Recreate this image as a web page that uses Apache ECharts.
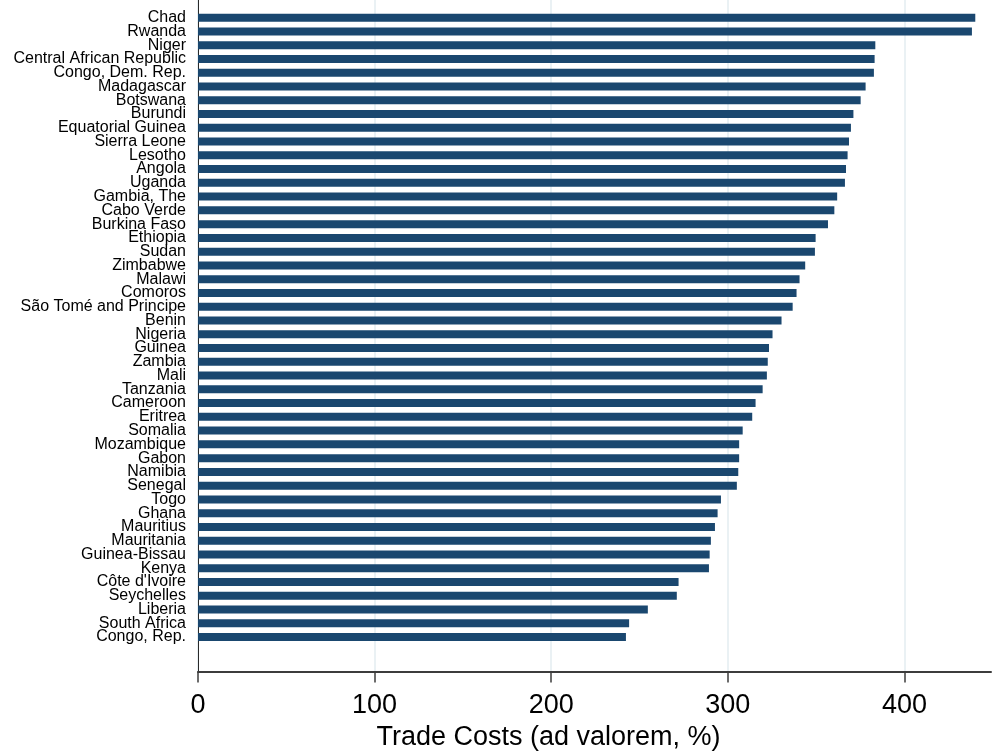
<!DOCTYPE html>
<html>
<head>
<meta charset="utf-8">
<title>Trade Costs</title>
<script src="https://cdn.jsdelivr.net/npm/echarts@6/dist/echarts.min.js"></script>
<style>
  html, body { margin: 0; padding: 0; background: #ffffff; }
  #chart { width: 992px; height: 753px; }
</style>
</head>
<body>
<div id="chart"></div>
<script>
// Countries, ordered from highest to lowest trade cost
const countries = [
  'Chad', 'Rwanda', 'Niger', 'Central African Republic', 'Congo, Dem. Rep.',
  'Madagascar', 'Botswana', 'Burundi', 'Equatorial Guinea', 'Sierra Leone',
  'Lesotho', 'Angola', 'Uganda', 'Gambia, The', 'Cabo Verde',
  'Burkina Faso', 'Ethiopia', 'Sudan', 'Zimbabwe', 'Malawi',
  'Comoros', 'São Tomé and Principe', 'Benin', 'Nigeria', 'Guinea',
  'Zambia', 'Mali', 'Tanzania', 'Cameroon', 'Eritrea',
  'Somalia', 'Mozambique', 'Gabon', 'Namibia', 'Senegal',
  'Togo', 'Ghana', 'Mauritius', 'Mauritania', 'Guinea-Bissau',
  'Kenya', "Côte d'Ivoire", 'Seychelles', 'Liberia', 'South Africa',
  'Congo, Rep.'
];

// Trade costs, ad valorem equivalent in percent
const tradeCosts = [
  440.1, 438.2, 383.5, 383.1, 382.7,
  378.0, 375.2, 371.1, 369.7, 368.6,
  367.8, 366.9, 366.3, 361.9, 360.3,
  356.7, 349.7, 349.3, 343.8, 340.6,
  338.9, 336.7, 330.4, 325.3, 323.3,
  322.6, 322.1, 319.7, 315.7, 313.8,
  308.4, 306.4, 306.4, 305.9, 305.1,
  296.1, 294.2, 292.7, 290.4, 289.7,
  289.3, 272.1, 271.1, 254.7, 244.1,
  242.3
];

// Value axis ticks
const xTicks = [0, 100, 200, 300, 400];
const xTitle = 'Trade Costs (ad valorem, %)';

const chart = echarts.init(document.getElementById('chart'), null, { renderer: 'canvas' });

chart.setOption({
  animation: false,
  backgroundColor: '#ffffff',
  textStyle: { fontFamily: 'Liberation Sans, Arial, Helvetica, sans-serif' },
  grid: {
    left: 198, right: 1, top: -3, bottom: 81.5,
    containLabel: false,
    outerBoundsMode: 'none'
  },
  xAxis: {
    type: 'value',
    min: 0,
    max: 449,
    interval: 100,
    name: xTitle,
    nameLocation: 'middle',
    nameGap: 51,
    // title sits a little left of the plot centre
    nameTextStyle: { fontSize: 27, color: '#000000', padding: [0, 92, 0, 0] },
    axisLine: { show: true, lineStyle: { color: '#3c3c3c', width: 2 } },
    axisTick: {
      show: true, length: 11, customValues: xTicks,
      lineStyle: { color: '#3c3c3c', width: 1.5 }
    },
    axisLabel: {
      customValues: xTicks,
      fontSize: 27, color: '#000000', margin: 21
    },
    splitLine: { show: true, lineStyle: { color: '#e3edf1', width: 1.5 } }
  },
  yAxis: {
    type: 'category',
    data: countries,
    inverse: true,
    min: -1,
    max: 47,
    axisLine: { show: true, onZero: false, lineStyle: { color: '#2a2a2a', width: 1 } },
    axisTick: { show: false },
    splitLine: { show: false },
    axisLabel: {
      interval: 0,
      fontSize: 16,
      color: '#000000',
      margin: 12,
      formatter: (v) => (v == null ? '' : v)
    }
  },
  series: [{
    type: 'bar',
    data: tradeCosts,
    barWidth: 8,
    itemStyle: { color: '#1a476f' },
    silent: true
  }]
});
</script>
</body>
</html>
